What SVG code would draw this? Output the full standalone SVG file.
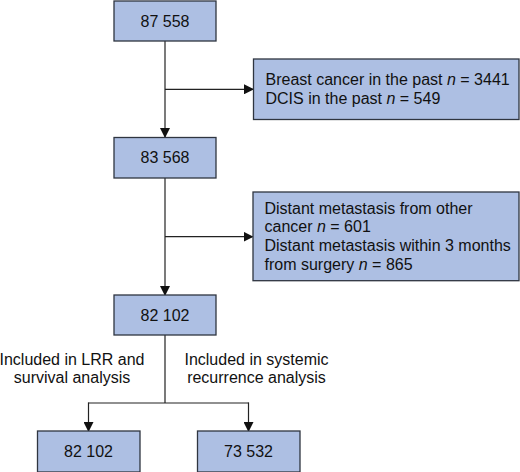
<svg xmlns="http://www.w3.org/2000/svg" width="520" height="472" viewBox="0 0 520 472">
<style>
.box{fill:#adbfe3;stroke:#2f3540;stroke-width:1.3}
.t{font-family:"Liberation Sans",Arial,sans-serif;font-size:16px;fill:#111}
.c{text-anchor:middle}
.ln{stroke:#222;stroke-width:1.2;fill:none}
</style>
<defs>
<marker id="ah" markerWidth="10" markerHeight="10" refX="9" refY="5" orient="auto" markerUnits="userSpaceOnUse">
<path d="M0,0 L10,5 L0,10 z" fill="#111"/>
</marker>
</defs>
<rect width="520" height="472" fill="#fff"/>
<g id="connectors">
<line class="ln" x1="165" y1="41" x2="165" y2="137" marker-end="url(#ah)"/>
<line class="ln" x1="165" y1="89.3" x2="253" y2="89.3" marker-end="url(#ah)"/>
<line class="ln" x1="165" y1="178" x2="165" y2="295" marker-end="url(#ah)"/>
<line class="ln" x1="165" y1="236.7" x2="252.5" y2="236.7" marker-end="url(#ah)"/>
<path class="ln" d="M165,335 V403 M88.5,403 H248.5"/>
<line class="ln" x1="88.5" y1="402.4" x2="88.5" y2="431" marker-end="url(#ah)"/>
<line class="ln" x1="248.5" y1="402.4" x2="248.5" y2="431" marker-end="url(#ah)"/>
</g>
<g id="n1"><rect class="box" x="114" y="1" width="102" height="40"/><text class="t c" x="165" y="26.5">87 558</text></g>
<g id="ex1"><rect class="box" x="253.5" y="59" width="265.5" height="60.5"/>
<text class="t" x="265.5" y="84.5">Breast cancer in the past <tspan font-style="italic">n</tspan> = 3441</text>
<text class="t" x="265.5" y="103.5">DCIS in the past <tspan font-style="italic">n</tspan> = 549</text></g>
<g id="n2"><rect class="box" x="114" y="137.5" width="102" height="40.5"/><text class="t c" x="165" y="163">83 568</text></g>
<g id="ex2"><rect class="box" x="253" y="192" width="266" height="88.7"/>
<text class="t" x="264.5" y="213.5">Distant metastasis from other</text>
<text class="t" x="264.5" y="232.3">cancer <tspan font-style="italic">n</tspan> = 601</text>
<text class="t" x="264.5" y="251">Distant metastasis within 3 months</text>
<text class="t" x="264.5" y="269.7">from surgery <tspan font-style="italic">n</tspan> = 865</text></g>
<g id="n3"><rect class="box" x="114" y="295" width="102" height="40"/><text class="t c" x="165" y="320.5">82 102</text></g>
<g id="lbl1"><text class="t c" x="72" y="364.5">Included in LRR and</text><text class="t c" x="72" y="383">survival analysis</text></g>
<g id="lbl2"><text class="t c" x="256.5" y="364.5">Included in systemic</text><text class="t c" x="256.5" y="383">recurrence analysis</text></g>
<g id="n4"><rect class="box" x="37.5" y="431" width="102.5" height="41"/><text class="t c" x="88.5" y="456.5">82 102</text></g>
<g id="n5"><rect class="box" x="197.5" y="431" width="102.5" height="41"/><text class="t c" x="248.5" y="456.5">73 532</text></g>
</svg>
